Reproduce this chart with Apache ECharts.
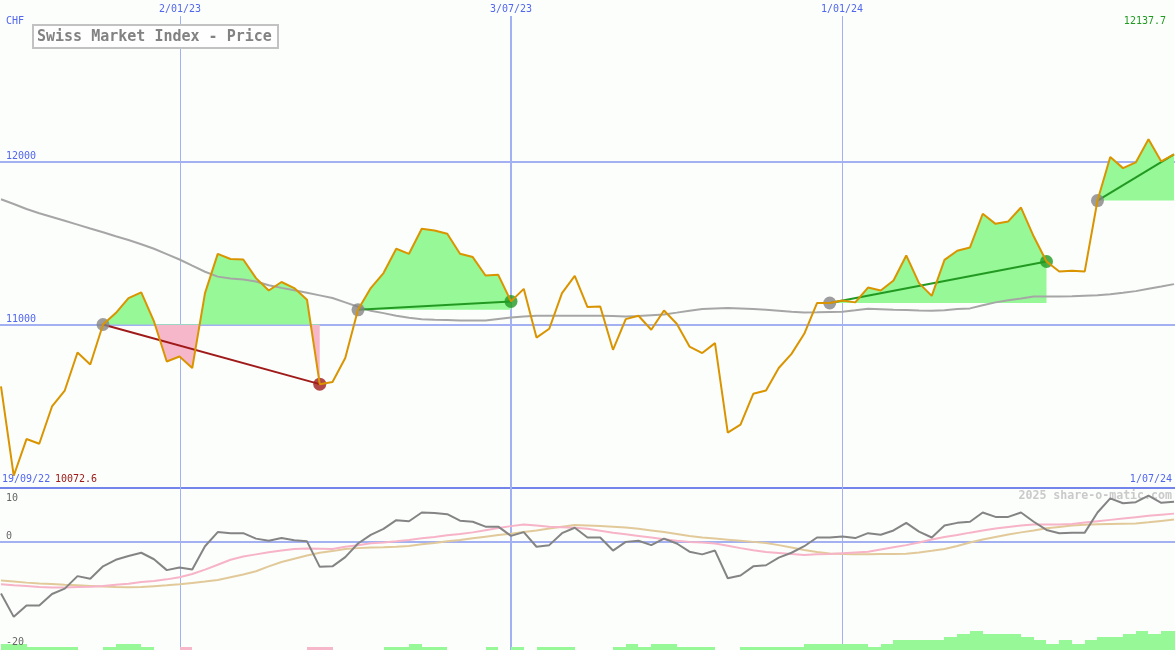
<!DOCTYPE html>
<html><head><meta charset="utf-8">
<script src="https://cdn.jsdelivr.net/npm/echarts@6/dist/echarts.min.js"></script>
<style>html,body{margin:0;padding:0;background:#fbfefb;}#c{width:1175px;height:650px;}</style>
</head><body><div id="c"></div>
<script>
// ---------- data ----------
const firstWeek = '2022-09-26';
const price = [10621, 10072.6, 10298, 10269, 10498, 10596, 10829, 10756, 11001, 11071,
 11163, 11198, 11020, 10774, 10805, 10734, 11194, 11435, 11403, 11400,
 11286, 11210, 11262, 11225, 11153, 10635, 10648, 10795, 11091, 11225,
 11317, 11466, 11435, 11589, 11578, 11558, 11435, 11415, 11302, 11306,
 11143, 11220, 10921, 10975, 11194, 11300, 11108, 11112, 10846, 11034,
 11055, 10969, 11087, 11006, 10866, 10826, 10887, 10338, 10386, 10576,
 10596, 10734, 10821, 10944, 11133, 11133, 11149, 11137, 11228, 11210,
 11271, 11425, 11255, 11177, 11398, 11454, 11474, 11681, 11619, 11634,
 11719, 11541, 11388, 11327, 11331, 11327, 11762, 12029, 11961, 11996,
 12137.7, 12002, 12046];
const ma40 = [11770, 11741, 11710, 11684, 11661, 11638, 11614, 11590, 11567, 11543,
 11520, 11494, 11466, 11433, 11400, 11362, 11325, 11295, 11284, 11278,
 11265, 11242, 11226, 11211, 11196, 11180, 11164, 11137, 11110, 11086,
 11071, 11055, 11042, 11034, 11031, 11029, 11026, 11025, 11026, 11035,
 11044, 11050, 11055, 11055, 11055, 11055, 11055, 11055, 11053, 11051,
 11053, 11058, 11063, 11074, 11086, 11096, 11099, 11102, 11100, 11096,
 11091, 11085, 11079, 11075, 11076, 11078, 11079, 11088, 11098, 11095,
 11092, 11090, 11087, 11085, 11089, 11096, 11100, 11119, 11137, 11150,
 11161, 11173, 11173, 11173, 11174, 11178, 11181, 11187, 11196, 11206,
 11220, 11234, 11249];
const osc = [-9.6, -13.9, -11.8, -11.8, -9.7, -8.7, -6.4, -6.9, -4.6, -3.4,
 -2.7, -2.1, -3.3, -5.3, -4.8, -5.2, -0.9, 1.7, 1.5, 1.5,
 0.5, 0.1, 0.6, 0.2, 0.0, -4.7, -4.6, -2.9, -0.4, 1.2,
 2.3, 3.9, 3.7, 5.3, 5.2, 5.0, 3.8, 3.6, 2.7, 2.7,
 1.0, 1.7, -1.0, -0.7, 1.5, 2.5, 0.7, 0.7, -1.7, -0.1,
 0.1, -0.7, 0.5, -0.4, -1.9, -2.4, -1.7, -6.8, -6.3, -4.6,
 -4.4, -3.0, -2.1, -0.9, 0.7, 0.7, 0.9, 0.6, 1.5, 1.2,
 2.0, 3.4, 1.8, 0.7, 2.9, 3.4, 3.6, 5.3, 4.5, 4.5,
 5.3, 3.6, 2.1, 1.5, 1.6, 1.6, 5.3, 7.9, 7.0, 7.2,
 8.4, 7.1, 7.3];
const oscFast = [-7.9, -8.1, -8.2, -8.4, -8.5, -8.5, -8.4, -8.35, -8.2, -8.0,
 -7.8, -7.5, -7.3, -7.0, -6.6, -6.0, -5.2, -4.3, -3.4, -2.8,
 -2.4, -2.0, -1.7, -1.4, -1.3, -1.35, -1.4, -1.0, -0.7, -0.35,
 -0.2, 0, 0.25, 0.55, 0.8, 1.1, 1.35, 1.65, 2.05, 2.45,
 2.8, 3.1, 2.9, 2.7, 2.6, 2.5, 2.3, 1.95, 1.6, 1.3,
 1.0, 0.7, 0.4, 0.1, -0.1, -0.2, -0.4, -0.8, -1.25, -1.65,
 -1.95, -2.15, -2.35, -2.5, -2.4, -2.35, -2.2, -2.05, -1.9, -1.5,
 -1.1, -0.7, -0.2, 0.35, 0.8, 1.15, 1.6, 2.0, 2.35, 2.65,
 2.9, 3.1, 3.1, 3.1, 3.2, 3.45, 3.7, 3.95, 4.2, 4.45,
 4.7, 4.9, 5.1];
const oscSlow = [-7.2, -7.4, -7.6, -7.75, -7.85, -8.0, -8.1, -8.2, -8.3, -8.4,
 -8.45, -8.4, -8.25, -8.1, -7.9, -7.65, -7.4, -7.1, -6.6, -6.1,
 -5.5, -4.6, -3.8, -3.2, -2.6, -2.1, -1.8, -1.4, -1.25, -1.15,
 -1.1, -1.0, -0.85, -0.55, -0.3, 0, 0.25, 0.55, 0.85, 1.15,
 1.4, 1.7, 2.0, 2.35, 2.7, 3.0, 2.9, 2.8, 2.7, 2.55,
 2.3, 2.0, 1.7, 1.35, 1.0, 0.7, 0.5, 0.3, 0.1, -0.1,
 -0.3, -0.7, -1.15, -1.6, -1.95, -2.25, -2.35, -2.4, -2.4, -2.35,
 -2.35, -2.3, -2.05, -1.75, -1.4, -0.85, -0.2, 0.35, 0.8, 1.25,
 1.65, 2.0, 2.4, 2.65, 2.9, 3.05, 3.15, 3.2, 3.25, 3.3,
 3.5, 3.75, 4.0];
const hist = [2,2,1,1,1,1,0,0,1,2,
 2,1,0,0,-1,0,0,0,0,0,
 0,0,0,0,-1,-1,0,0,0,0,
 1,1,2,1,1,0,0,0,1,0,
 1,0,1,1,1,0,0,0,1,2,
 1,2,2,1,1,1,0,0,1,1,
 1,1,1,2,2,2,2,2,1,2,
 3,3,3,3,4,5,6,5,5,5,
 4,3,2,3,2,3,4,4,5,6,
 5,6,6];
const tradeEntries = [8, 28, 65, 86];
const tradeExits = [25, 40, 82, 92];
const tradeOpen = [false, false, false, true];
const gridDates = ['2023-01-02', '2023-07-03', '2024-01-01'];
const gridDateLabels = ['2/01/23', '3/07/23', '1/01/24'];
const priceTicks = [11000, 12000];
const oscTicks = [10, 0, -20];
const firstLabel = '19/09/22';
const lastLabel = '1/07/24';
const currency = 'CHF';
const titleText = 'Swiss Market Index - Price';
const watermark = '2025 share-o-matic.com';

// ---------- helpers / styles ----------
const DAY = 86400000, WEEK = 7 * DAY;
const t0 = Date.parse(firstWeek);
const dates = price.map((_, i) => t0 + i * WEEK);
const pair = arr => arr.map((v, i) => [dates[i], v]);
const FONT = '"DejaVu Sans Mono", "Liberation Mono", monospace';
const BLUE = '#5266ee', GRIDC = '#a3b1f2', SEPC = '#7385ea';
const ORANGE = '#da9400', MAC = '#a6a6a6', OSCC = '#848484';
const FASTC = '#f7b3c8', SLOWC = '#e2c99a';
const GFILL = '#97f897', PFILL = '#f7b7cb';
const GDARK = '#229a22', RDARK = '#a01a1a', DOTG = '#858585';
const xMin = dates[0] - 0.55 * DAY, xMax = dates[dates.length - 1] + 0.55 * DAY;
const minV = Math.min(...price), maxV = Math.max(...price);

const chart = echarts.init(document.getElementById('c'), null, {renderer: 'canvas'});

const tradeColor = k => price[tradeExits[k]] >= price[tradeEntries[k]] ? GDARK : RDARK;

const series = [];
// horizontal price grid lines
series.push({
  type: 'custom', xAxisIndex: 0, yAxisIndex: 0, silent: true, z: 1, clip: false,
  data: priceTicks.map(v => [xMin, v]),
  renderItem(params, api) {
    const y = Math.round(api.coord([api.value(0), api.value(1)])[1]);
    return {type: 'line', shape: {x1: 0, y1: y, x2: api.getWidth(), y2: y}, style: {stroke: GRIDC, lineWidth: 2}};
  }
});
// vertical date grid lines + labels
series.push({
  type: 'custom', xAxisIndex: 0, yAxisIndex: 0, silent: true, z: 1, clip: false,
  data: gridDates.map(d => [Date.parse(d), 12000]),
  renderItem(params, api) {
    const x = Math.round(api.coord([api.value(0), 12000])[0]);
    const w = params.dataIndex === 1 ? 2 : 1;
    const xx = w === 1 ? x + 0.5 : x;
    return {type: 'group', children: [
      {type: 'line', shape: {x1: xx, y1: 16, x2: xx, y2: api.getHeight()}, style: {stroke: GRIDC, lineWidth: w}},
      {type: 'text', x: x, y: 9, style: {text: gridDateLabels[params.dataIndex], fill: BLUE, font: '10px ' + FONT, align: 'center', verticalAlign: 'middle'}}
    ]};
  }
});
// trade fills
series.push({
  type: 'custom', xAxisIndex: 0, yAxisIndex: 0, silent: true, z: 2, clip: false,
  data: tradeEntries.map((e, k) => [dates[e], price[e], k]),
  renderItem(params, api) {
    const k = api.value(2), e = tradeEntries[k], x = tradeExits[k], base = price[e];
    const pts = [];
    for (let j = e; j <= x; j++) pts.push(api.coord([dates[j], price[j]]));
    const b1 = api.coord([dates[x], base]), b0 = api.coord([dates[e], base]);
    pts.push(b1, b0);
    const H = api.getHeight(), o = b0[1] / H;
    const fill = new echarts.graphic.LinearGradient(0, 0, 0, H, [
      {offset: 0, color: GFILL}, {offset: o, color: GFILL}, {offset: o, color: PFILL}, {offset: 1, color: PFILL}], true);
    return {type: 'polygon', shape: {points: pts}, style: {fill: fill}};
  }
});
// 40-week MA
series.push({type: 'line', xAxisIndex: 0, yAxisIndex: 0, data: pair(ma40), showSymbol: false, symbol: 'none', z: 3,
  lineStyle: {color: MAC, width: 2}, silent: true});
// trend lines
tradeEntries.forEach((e, k) => {
  const x = tradeExits[k];
  series.push({type: 'line', xAxisIndex: 0, yAxisIndex: 0, symbol: 'none', z: 4, silent: true,
    data: [[dates[e], price[e]], [dates[x], price[x]]], lineStyle: {color: tradeColor(k), width: 2}});
});
// dots
const dots = [];
tradeEntries.forEach((e, k) => {
  dots.push({value: [dates[e], price[e]], itemStyle: {color: DOTG}});
  if (!tradeOpen[k]) dots.push({value: [dates[tradeExits[k]], price[tradeExits[k]]], itemStyle: {color: tradeColor(k)}});
});
series.push({type: 'scatter', xAxisIndex: 0, yAxisIndex: 0, symbol: 'circle', symbolSize: 13, z: 5, silent: true, data: dots});
// price line
series.push({type: 'line', xAxisIndex: 0, yAxisIndex: 0, data: pair(price), symbol: 'none', z: 6, silent: true,
  lineStyle: {color: ORANGE, width: 2}});

// bottom panel: histogram
series.push({
  type: 'custom', xAxisIndex: 1, yAxisIndex: 2, silent: true, z: 2, clip: false,
  data: pair(hist),
  renderItem(params, api) {
    const t = api.value(0), v = api.value(1);
    if (!v) return null;
    const a = api.coord([t, Math.abs(v)]), b = api.coord([t + WEEK, 0]);
    const x0 = Math.round(a[0]), x1 = Math.round(b[0]), y0 = Math.round(a[1]), y1 = Math.round(b[1]);
    return {type: 'rect', shape: {x: x0, y: y0, width: x1 - x0, height: y1 - y0}, style: {fill: v > 0 ? GFILL : PFILL}};
  }
});
series.push({type: 'line', xAxisIndex: 1, yAxisIndex: 1, data: pair(oscSlow), symbol: 'none', z: 3, silent: true,
  lineStyle: {color: SLOWC, width: 2}});
series.push({type: 'line', xAxisIndex: 1, yAxisIndex: 1, data: pair(oscFast), symbol: 'none', z: 4, silent: true,
  lineStyle: {color: FASTC, width: 2}});
series.push({type: 'line', xAxisIndex: 1, yAxisIndex: 1, data: pair(osc), symbol: 'none', z: 5, silent: true,
  lineStyle: {color: OSCC, width: 2},
  markLine: {silent: true, symbol: 'none', label: {show: false}, z: 1,
    lineStyle: {color: GRIDC, width: 2, type: 'solid'}, data: [{yAxis: 0}]}});

const labelBase = {fontFamily: FONT, fontSize: 10};
const option = {
  backgroundColor: '#fbfefb',
  animation: false,
  tooltip: {show: false},
  grid: [
    {left: 0, right: 0, top: 0, height: 487.6},
    {left: 0, right: 0, top: 487, height: 163}
  ],
  xAxis: [
    {type: 'time', gridIndex: 0, min: xMin, max: xMax, axisLine: {show: true, onZero: false, lineStyle: {color: SEPC, width: 2}},
      axisTick: {show: false}, axisLabel: {show: false}, splitLine: {show: false}},
    {type: 'time', gridIndex: 1, min: xMin, max: xMax, axisLine: {show: false}, axisTick: {show: false},
      axisLabel: {show: false}, splitLine: {show: false}}
  ],
  yAxis: [
    {type: 'value', gridIndex: 0, min: 10000, max: 12993, interval: 1000,
      axisLine: {show: false}, axisTick: {show: false}, splitLine: {show: false},
      axisLabel: Object.assign({inside: true, margin: 6, color: BLUE, verticalAlign: 'bottom',
        formatter: v => priceTicks.includes(v) ? String(v) : ''}, labelBase)},
    {type: 'value', gridIndex: 1, min: -20, max: 10, interval: 10, z: 20,
      axisLine: {show: false}, axisTick: {show: false}, splitLine: {show: false},
      axisLabel: Object.assign({inside: true, margin: 6, color: '#666666', verticalAlign: 'bottom', verticalAlignMaxLabel: 'top',
        formatter: v => v === oscTicks[0] ? '{t|' + v + '}' : (v === oscTicks[1] ? String(v) : ''),
        rich: {t: {padding: [6, 0, 0, 0], fontFamily: FONT, fontSize: 10, color: '#666666'}}}, labelBase)},
    {type: 'value', gridIndex: 1, min: 0, max: 51.4, show: false}
  ],
  series: series,
  graphic: [
    {type: 'text', x: 1172, y: 496, z: 0, silent: true, style: {text: watermark, fill: '#cacaca', font: 'bold 11.6px ' + FONT, align: 'right', verticalAlign: 'middle'}},
    {type: 'rect', shape: {x: 33, y: 25, width: 245, height: 23}, z: 100, style: {fill: '#fdfefd', stroke: '#c2c2c2', lineWidth: 2}},
    {type: 'text', x: 37, y: 37, z: 101, style: {text: titleText, fill: '#828282', font: 'bold 15px ' + FONT, align: 'left', verticalAlign: 'middle'}},
    {type: 'text', x: 6, y: 21, z: 100, style: {text: currency, fill: BLUE, font: '10px ' + FONT, align: 'left', verticalAlign: 'middle'}},
    {type: 'text', x: 1166, y: 21, z: 100, style: {text: maxV.toFixed(1), fill: GDARK, font: '10px ' + FONT, align: 'right', verticalAlign: 'middle'}},
    {type: 'text', x: 2, y: 479, z: 100, style: {text: firstLabel, fill: BLUE, font: '10px ' + FONT, align: 'left', verticalAlign: 'middle'}},
    {type: 'text', x: 55, y: 479, z: 100, style: {text: minV.toFixed(1), fill: RDARK, font: '10px ' + FONT, align: 'left', verticalAlign: 'middle'}},
    {type: 'text', x: 1172, y: 479, z: 100, style: {text: lastLabel, fill: BLUE, font: '10px ' + FONT, align: 'right', verticalAlign: 'middle'}},
    {type: 'text', x: 6, y: 642, z: 100, silent: true, style: {text: String(oscTicks[2]), fill: '#666666', font: '10px ' + FONT, align: 'left', verticalAlign: 'middle'}}
  ]
};
chart.setOption(option);
</script></body></html>
